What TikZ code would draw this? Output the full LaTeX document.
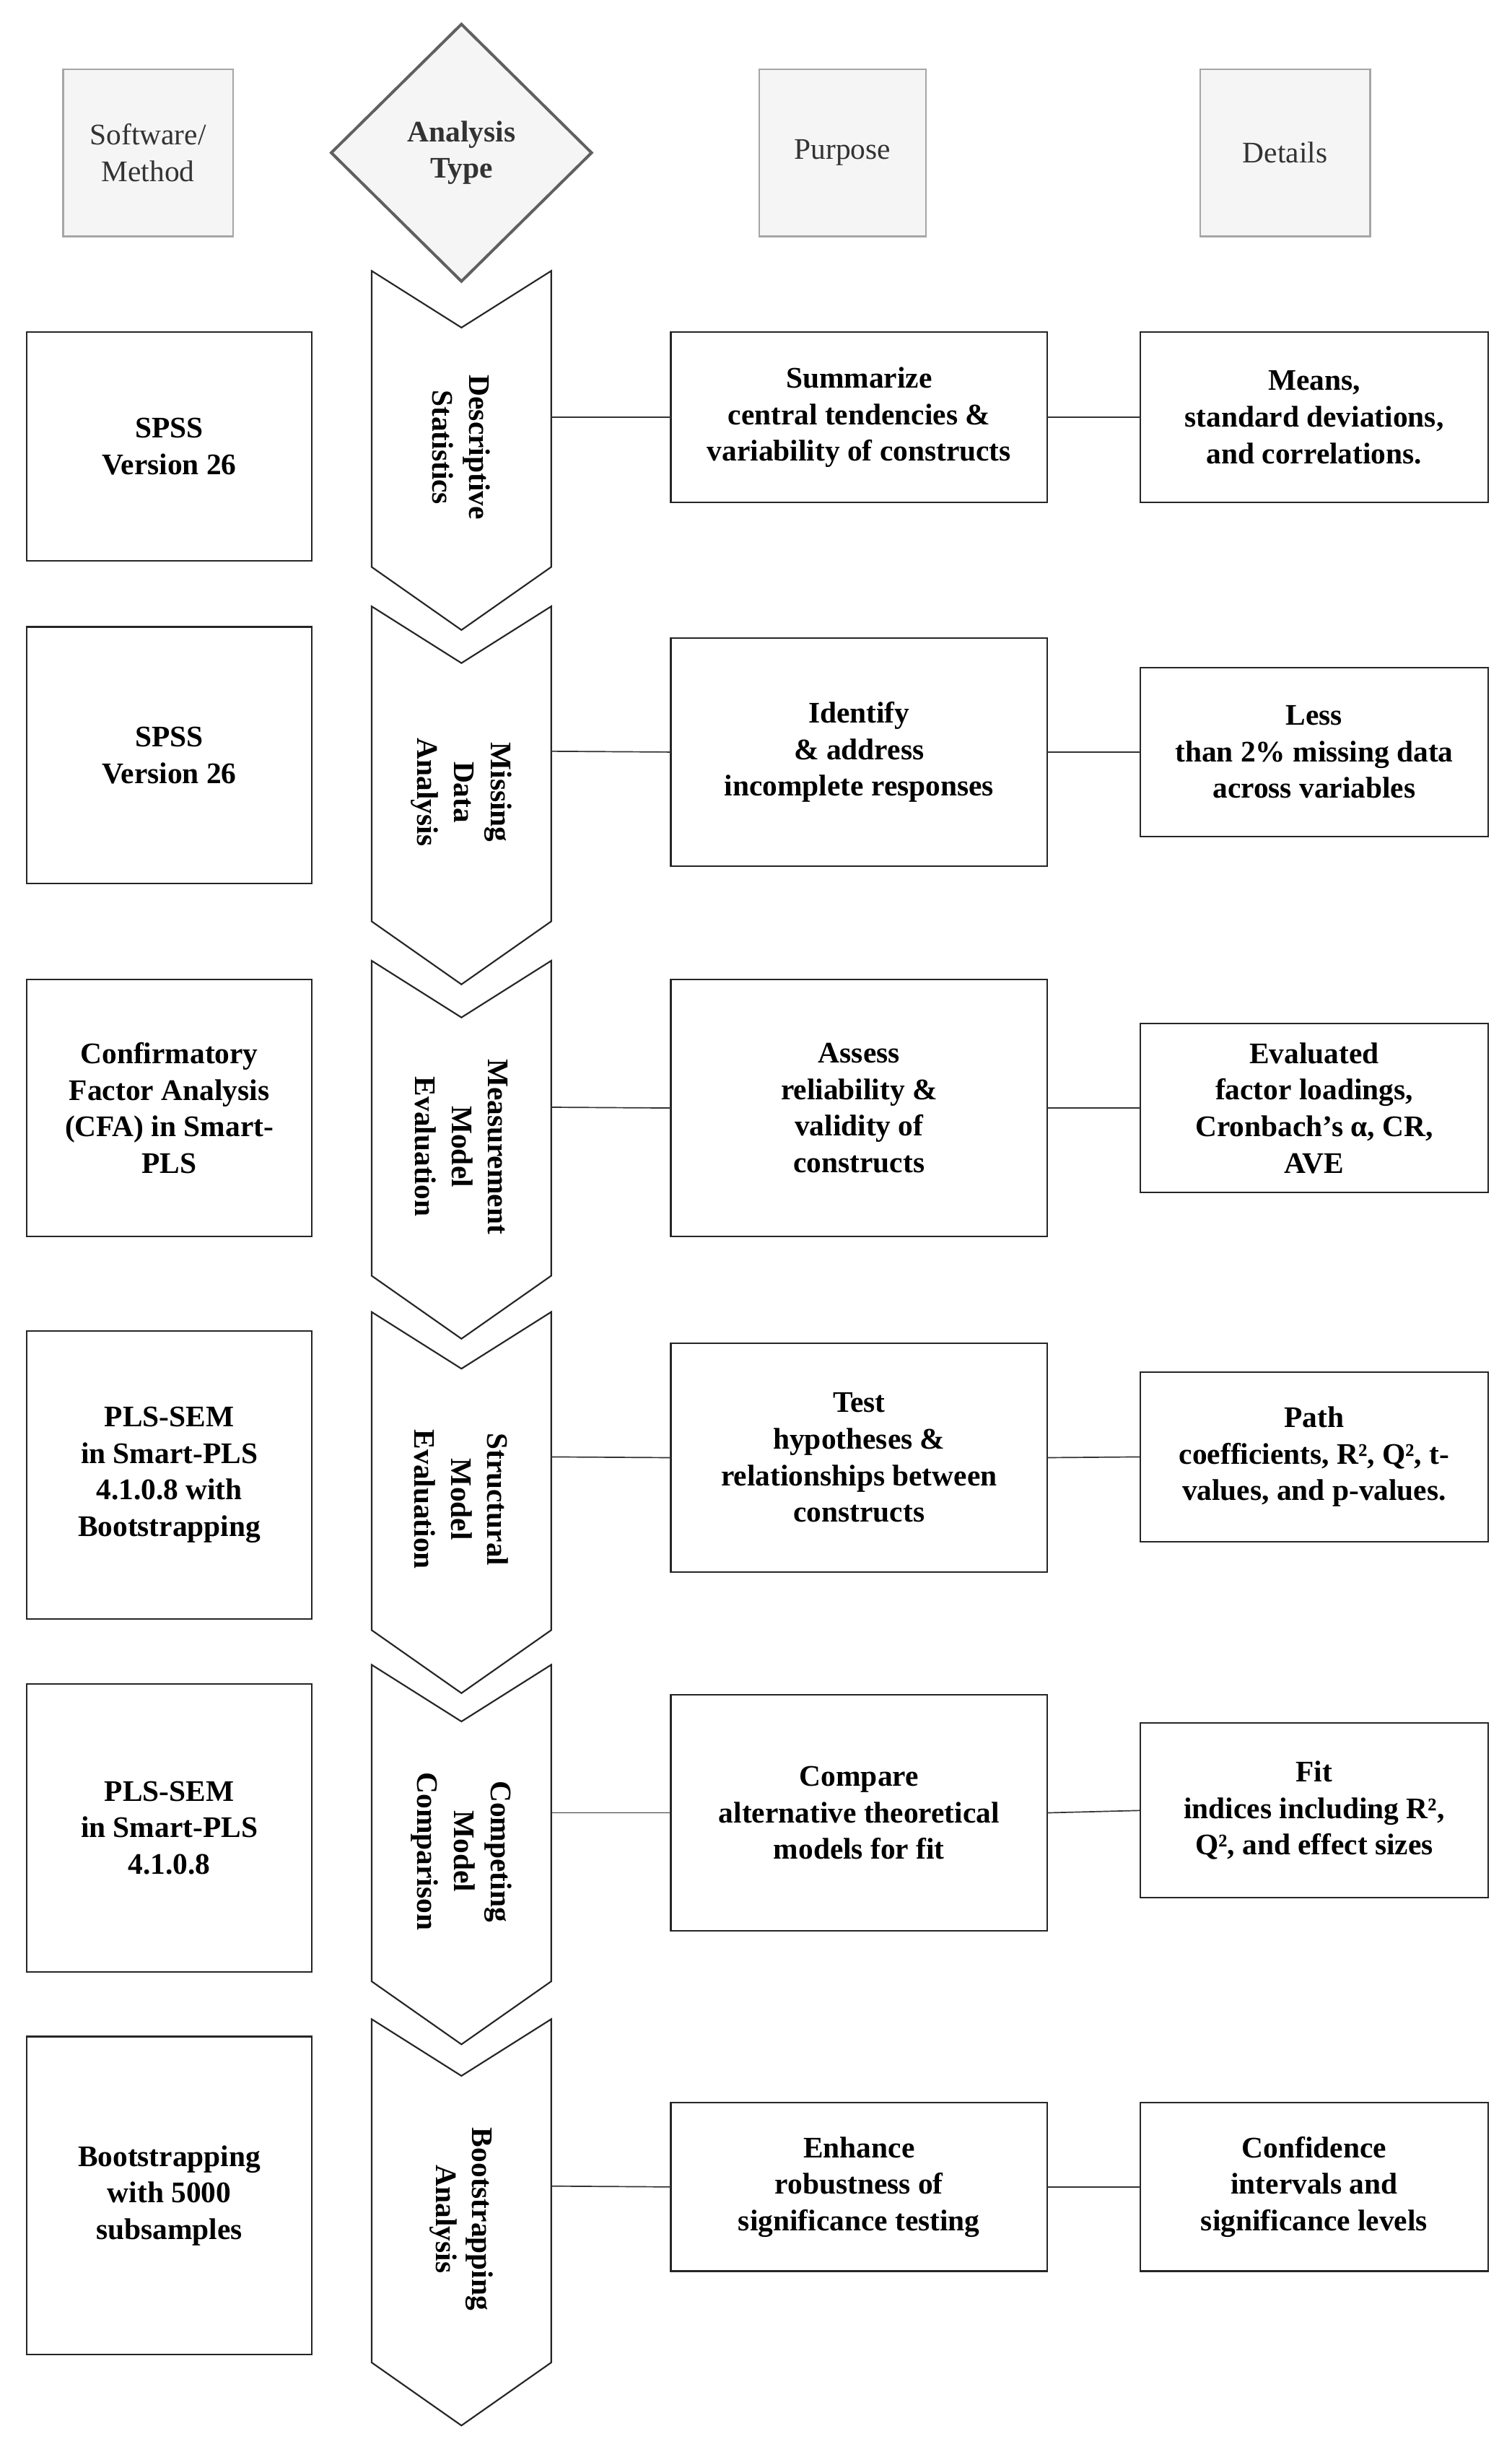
\documentclass[tikz,border=0pt]{standalone}
\usepackage{fontspec}
\setmainfont{Liberation Serif}
\usetikzlibrary{shapes.geometric}
\begin{document}
\begin{tikzpicture}[x=0.05cm,y=-0.05cm,
  txt/.style={font=\fontsize{27}{33}\selectfont\bfseries,align=center},
  hdr/.style={draw=gray!70,fill=gray!8,line width=1.6pt,text=gray!40!black,font=\fontsize{27}{33}\selectfont,align=center,inner sep=0pt},
  box/.style={draw=black!85,line width=1.4pt,txt,inner sep=0pt,outer sep=0pt},
  chev/.style={draw=black!85,line width=1.4pt,fill=white},
  ln/.style={draw=black!80,line width=1.1pt}]
\useasboundingbox (0,0) rectangle (960,1560);
% headers
\node[hdr,minimum width=108*0.05cm,minimum height=106*0.05cm] (h1) at (94,97) {Software/\\Method};
\node[hdr,diamond,draw=gray!75!black,line width=2.6pt,minimum width=166*0.05cm,minimum height=164*0.05cm,aspect=1.01,font=\fontsize{27}{33}\selectfont\bfseries] (h2) at (293,97) {Analysis\\Type};
\node[hdr,minimum width=106*0.05cm,minimum height=106*0.05cm] (h3) at (535,97) {Purpose};
\node[hdr,minimum width=108*0.05cm,minimum height=106*0.05cm] (h4) at (816,97) {Details};
% chevrons
\newcommand\chevron[4]{% name, top, bottom side end, text
  \path[chev] (236,#2) -- (293,#2+36) -- (350,#2) -- (350,#3) -- (293,#3+40) -- (236,#3) -- cycle;
  \node[txt,rotate=-90] (#1) at (293,{(#2+#3)/2+18}) {#4};}
\chevron{c1}{172}{360}{Descriptive\\Statistics}
\chevron{c2}{385}{585}{Missing\\Data\\Analysis}
\chevron{c3}{610}{810}{Measurement\\Model\\Evaluation}
\chevron{c4}{833}{1035}{Structural\\Model\\Evaluation}
\chevron{c5}{1057}{1258}{Competing\\Model\\Comparison}
\chevron{c6}{1282}{1500}{Bootstrapping\\Analysis}
% left boxes
\newcommand\lbox[4]{\node[box,minimum width=181*0.05cm,minimum height={(#3-#2-4)*0.05cm}] (#1) at (107.5,{(#2+#3)/2}) {#4};}
\lbox{s1}{209}{358}{SPSS\\Version 26}
\lbox{s2}{396}{563}{SPSS\\Version 26}
\lbox{s3}{620}{787}{Confirmatory\\Factor Analysis\\(CFA) in Smart-\\PLS}
\lbox{s4}{843}{1030}{PLS-SEM\\in Smart-PLS\\4.1.0.8 with\\Bootstrapping}
\lbox{s5}{1067}{1254}{PLS-SEM\\in Smart-PLS\\4.1.0.8}
\lbox{s6}{1291}{1497}{Bootstrapping\\with 5000\\subsamples}
% purpose boxes
\newcommand\pbox[4]{\node[box,minimum width=239*0.05cm,minimum height={(#3-#2-4)*0.05cm}] (#1) at (545.5,{(#2+#3)/2}) {#4};}
\pbox{p1}{209}{321}{Summarize\\central tendencies \&\\variability of constructs}
\pbox{p2}{403}{552}{Identify\\\& address\\incomplete responses}
\pbox{p3}{620}{787}{Assess\\reliability \&\\validity of\\constructs}
\pbox{p4}{851}{1000}{Test\\hypotheses \&\\relationships between\\constructs}
\pbox{p5}{1074}{1228}{Compare\\alternative theoretical\\models for fit}
\pbox{p6}{1333}{1444}{Enhance\\robustness of\\significance testing}
% details boxes
\newcommand\dbox[4]{\node[box,minimum width=221*0.05cm,minimum height={(#3-#2-4)*0.05cm}] (#1) at (834.5,{(#2+#3)/2}) {#4};}
\dbox{d1}{209}{321}{Means,\\standard deviations,\\and correlations.}
\dbox{d2}{422}{533}{Less\\than 2\% missing data\\across variables}
\dbox{d3}{648}{759}{Evaluated\\factor loadings,\\Cronbach's α, CR,\\AVE}
\dbox{d4}{869}{981}{Path\\coefficients, R², Q², t-\\values, and p-values.}
\dbox{d5}{1092}{1207}{Fit\\indices including R²,\\Q², and effect sizes}
\dbox{d6}{1333}{1444}{Confidence\\intervals and\\significance levels}
% connectors
\foreach \i/\y in {1/265,2/477,3/703,4/925,5/1151,6/1388}{
  \coordinate (a\i) at (350,\y);
  \draw[ln] (a\i) -- (p\i.west);
  \draw[ln] (p\i.east) -- (d\i.west);
}
\end{tikzpicture}
\end{document}
